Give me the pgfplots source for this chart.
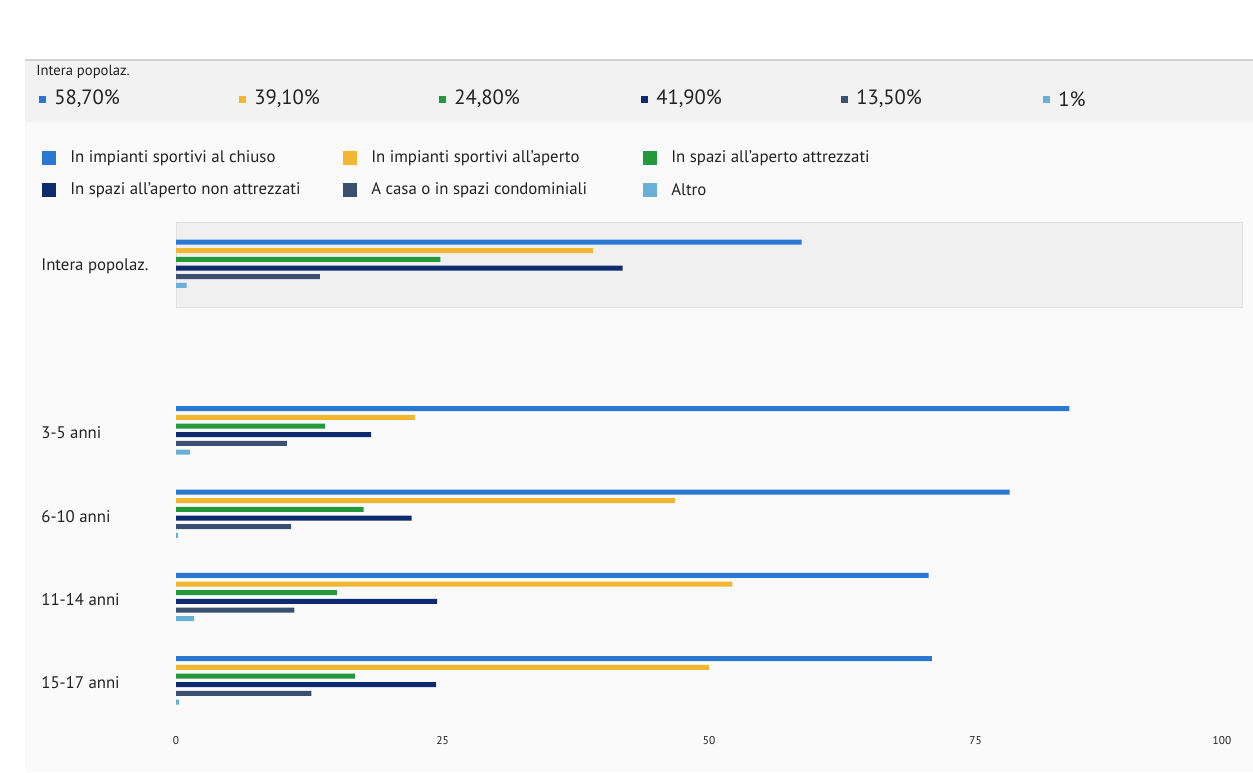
\documentclass[border=0pt]{standalone}
\usepackage{pgfplots}
\pgfplotsset{compat=1.18}
\usepackage{fontspec}
\setmainfont{PT Sans}
\definecolor{cA}{HTML}{2A78D2}
\definecolor{cB}{HTML}{F2B630}
\definecolor{cC}{HTML}{23993B}
\definecolor{cD}{HTML}{0D2B6E}
\definecolor{cE}{HTML}{3A5070}
\definecolor{cF}{HTML}{6AAFD8}
\definecolor{txt}{HTML}{222222}
\begin{document}
\begin{tikzpicture}
\begin{scope}[x=0.75pt,y=-0.75pt]
\path[use as bounding box, fill=white] (0,0) rectangle (1253,772);
\fill[black!2] (25,122) rectangle (1253,772);
\fill[black!5] (25,60) rectangle (1253,122);
\draw[black!18, line width=1.2pt] (25,60) -- (1253,60);
\node[anchor=west, inner sep=0, text=txt, font=\fontsize{11}{13}\selectfont] at (36,72) {Intera popolaz.};
\foreach \xx/\cc/\tt in {42/cA/{58,70\%}, 242/cB/{39,10\%}, 442/cC/{24,80\%}, 644/cD/{41,90\%}, 844/cE/{13,50\%}, 1046/cF/{1\%}}{
  \fill[\cc] (\xx-3.5,95.5) rectangle (\xx+3.5,102.5);
  \node[anchor=west, inner sep=0, text=txt, font=\fontsize{15.5}{18}\selectfont] at (\xx+12,99) {\tt};
}
\foreach \xx/\yy/\cc/\tt in {49/158/cA/{In impianti sportivi al chiuso}, 350/158/cB/{In impianti sportivi all'aperto}, 650/158/cC/{In spazi all'aperto attrezzati}, 49/190/cD/{In spazi all'aperto non attrezzati}, 350/190/cE/{A casa o in spazi condominiali}, 650/190/cF/{Altro}}{
  \fill[\cc] (\xx-7,\yy-7) rectangle (\xx+7,\yy+7);
  \node[anchor=west, inner sep=0, text=txt, font=\fontsize{12.6}{14}\selectfont] at (\xx+21,\yy) {\tt};
}
\end{scope}
\begin{axis}[
 at={(132pt,-541.5pt)}, anchor=south west, scale only axis,
 width=799.5pt, height=375pt,
 xbar, bar width=0.06,
 xmin=0, xmax=100, ymin=-0.5, ymax=5.5, y dir=reverse,
 axis line style={draw=none}, major tick length=0pt,
 xtick={0,25,50,75},
 extra x ticks={100},
 extra x tick style={xticklabel style={xshift=-15pt}},
 ytick={0,2,3,4,5},
 yticklabels={Intera popolaz.,3-5 anni,6-10 anni,11-14 anni,15-17 anni},
 yticklabel style={anchor=west, xshift=-104.5pt, yshift=-2pt, font=\fontsize{12.6}{14}\selectfont, text=txt},
 xticklabel style={font=\fontsize{8.5}{10}\selectfont, text=txt, yshift=-7.5pt},
 /pgf/number format/assume math mode=true,
 clip=false,
]
\draw[fill=black!6, draw=black!12] (axis cs:0,-0.5) rectangle (axis cs:100,0.52);
\addplot[fill=cA, draw=none, bar shift=-0.26] coordinates {(58.7,0) (83.8,2) (78.2,3) (70.6,4) (70.9,5)};
\addplot[fill=cB, draw=none, bar shift=-0.156] coordinates {(39.1,0) (22.4,2) (46.8,3) (52.2,4) (50.0,5)};
\addplot[fill=cC, draw=none, bar shift=-0.052] coordinates {(24.8,0) (14.0,2) (17.6,3) (15.1,4) (16.8,5)};
\addplot[fill=cD, draw=none, bar shift=0.052] coordinates {(41.9,0) (18.3,2) (22.1,3) (24.5,4) (24.4,5)};
\addplot[fill=cE, draw=none, bar shift=0.156] coordinates {(13.5,0) (10.4,2) (10.8,3) (11.1,4) (12.7,5)};
\addplot[fill=cF, draw=none, bar shift=0.26] coordinates {(1.0,0) (1.3,2) (0.2,3) (1.7,4) (0.3,5)};
\end{axis}
\end{tikzpicture}
\end{document}
